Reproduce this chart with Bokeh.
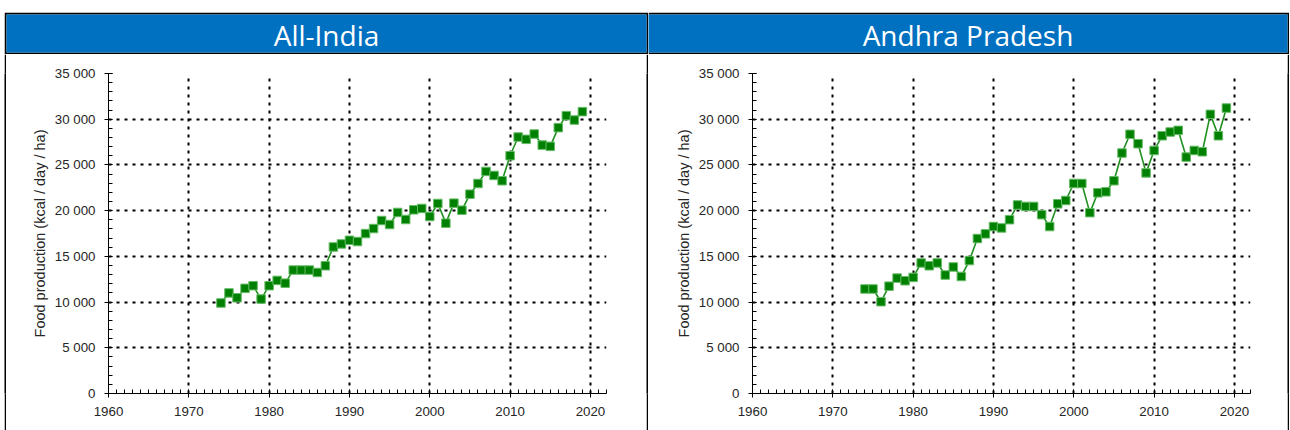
from bokeh.plotting import figure
from bokeh.layouts import row, column
from bokeh.models import Label, SingleIntervalTicker
from bokeh.embed import file_html
from bokeh.resources import INLINE

# ---------------- data ----------------
years = [1974, 1975, 1976, 1977, 1978, 1979, 1980, 1981, 1982, 1983,
         1984, 1985, 1986, 1987, 1988, 1989, 1990, 1991, 1992, 1993,
         1994, 1995, 1996, 1997, 1998, 1999, 2000, 2001, 2002, 2003,
         2004, 2005, 2006, 2007, 2008, 2009, 2010, 2011, 2012, 2013,
         2014, 2015, 2016, 2017, 2018, 2019]

all_india = [9900, 11000, 10470, 11500, 11790, 10330, 11790, 12370, 12070, 13500,
             13500, 13500, 13240, 13970, 16030, 16360, 16760, 16620, 17490, 18040,
             18920, 18480, 19800, 19030, 20090, 20240, 19360, 20780, 18630, 20820,
             20050, 21800, 22970, 24290, 23850, 23270, 26010, 28050, 27800, 28380,
             27170, 27030, 29080, 30390, 29910, 30830]

andhra_pradesh = [11430, 11430, 10040, 11740, 12620, 12330, 12700, 14280, 13970, 14280,
                  12960, 13840, 12800, 14540, 16950, 17460, 18260, 18110, 19010, 20620,
                  20460, 20460, 19560, 18260, 20750, 21110, 22970, 22970, 19780, 21950,
                  22060, 23270, 26300, 28350, 27320, 24130, 26580, 28190, 28600, 28780,
                  25860, 26580, 26440, 30530, 28190, 31220]

titles = ["All-India", "Andhra Pradesh"]
y_tick_values = [0, 5000, 10000, 15000, 20000, 25000, 30000, 35000]
y_tick_labels = ["0", "5 000", "10 000", "15 000", "20 000", "25 000", "30 000", "35 000"]
y_label = "Food production (kcal / day / ha)"

# ---------------- styling / layout ----------------
HEADER_BLUE = "#0070C0"
TEXT_COL = "#262626"
HEADER_H = 42
BODY_H = 376
FRAME_W = 498


def make_header(title, width, border_left):
    h = figure(width=width, height=HEADER_H, x_range=(0, 1), y_range=(0, HEADER_H - 4),
               output_backend="svg", toolbar_location=None, title=None,
               x_axis_type=None, y_axis_type=None,
               min_border_left=border_left, min_border_right=2,
               min_border_top=2, min_border_bottom=2)
    h.background_fill_color = HEADER_BLUE
    h.border_fill_color = "black"
    h.outline_line_color = None
    h.xgrid.visible = False
    h.ygrid.visible = False
    h.add_layout(Label(x=0.5, y=(HEADER_H - 4) / 2 - 1, text=title, text_align="center",
                       text_baseline="middle", text_color="white",
                       text_font="Open Sans", text_font_size="28px"))
    return h


def make_bar():
    b = figure(width=2, height=BODY_H, x_range=(0, 1), y_range=(0, 1),
               output_backend="svg", toolbar_location=None, title=None,
               x_axis_type=None, y_axis_type=None, min_border=0)
    b.background_fill_color = "black"
    b.border_fill_color = "black"
    b.outline_line_color = None
    b.xgrid.visible = False
    b.ygrid.visible = False
    return b


def make_plot(values, width, left_border):
    p = figure(width=width, height=BODY_H, x_range=(1960, 2022), y_range=(0, 35000),
               output_backend="svg", toolbar_location=None, title=None,
               min_border_left=left_border, min_border_right=width - left_border - FRAME_W,
               min_border_top=19, min_border_bottom=37)
    p.outline_line_color = None
    p.background_fill_color = "white"
    p.border_fill_color = "white"

    p.xaxis.ticker = SingleIntervalTicker(interval=10, num_minor_ticks=10)
    p.yaxis.ticker = SingleIntervalTicker(interval=5000, num_minor_ticks=5)
    p.yaxis.major_label_overrides = {v: s for v, s in zip(y_tick_values, y_tick_labels)}
    for ax in (p.xaxis[0], p.yaxis[0]):
        ax.axis_line_color = "black"
        ax.major_tick_line_color = "black"
        ax.minor_tick_line_color = "black"
        ax.major_tick_in = 4
        ax.major_tick_out = 4
        ax.minor_tick_in = 4
        ax.minor_tick_out = 0
        ax.major_label_text_font = "Liberation Sans"
        ax.major_label_text_font_size = "13.3px"
        ax.major_label_text_color = TEXT_COL
    p.xaxis.major_label_standoff = 9
    p.yaxis.major_label_standoff = 9
    p.yaxis.axis_label = y_label
    p.yaxis.axis_label_text_font = "Liberation Sans"
    p.yaxis.axis_label_text_font_size = "14.5px"
    p.yaxis.axis_label_text_font_style = "normal"
    p.yaxis.axis_label_text_color = TEXT_COL
    p.yaxis.axis_label_standoff = 4

    for g in (p.xgrid[0], p.ygrid[0]):
        g.grid_line_color = "black"
        g.grid_line_width = 2
        g.grid_line_dash = "3 5"

    p.line(years, values, line_color="#1f8f1f", line_width=1.6)
    p.scatter(years, values, marker="square", size=8.5,
              fill_color="#008000", line_color="#66bb66", line_width=1)
    return p


hdr1 = make_header(titles[0], 644, 2)
hdr2 = make_header(titles[1], 641, 0)
plot1 = make_plot(all_india, 640, 102)
plot2 = make_plot(andhra_pradesh, 639, 104)

layout = column(
    row(hdr1, hdr2),
    row(make_bar(), plot1, make_bar(), plot2, make_bar()),
    margin=(12, 0, -4, 4),
)

open("out.html", "w").write(file_html(layout, INLINE))
